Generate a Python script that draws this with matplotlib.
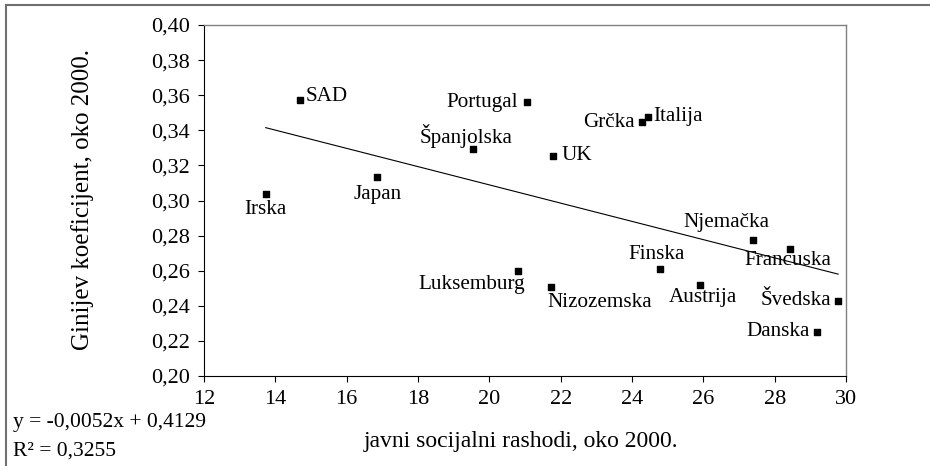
import matplotlib.pyplot as plt
import numpy as np
from matplotlib.lines import Line2D
from matplotlib.ticker import FuncFormatter

plt.rcParams['font.family'] = ['Liberation Serif', 'DejaVu Serif']

# Podaci
zemlje = ['SAD', 'Irska', 'Japan', 'Španjolska', 'Portugal', 'UK', 'Grčka', 'Italija',
          'Luksemburg', 'Nizozemska', 'Finska', 'Austrija', 'Njemačka', 'Francuska',
          'Švedska', 'Danska']
rashodi = [14.69, 13.73, 16.86, 19.55, 21.07, 21.79, 24.29, 24.44,
           20.81, 21.73, 24.78, 25.92, 27.38, 28.43, 29.78, 29.19]
gini = [0.357, 0.3035, 0.3136, 0.3292, 0.3561, 0.3254, 0.3447, 0.3474,
        0.260, 0.2507, 0.2608, 0.2519, 0.2775, 0.2726, 0.2429, 0.2249]

nagib = -0.0052
odsjecak = 0.4129
r2 = 0.3255

x_ticks = [12, 14, 16, 18, 20, 22, 24, 26, 28, 30]
y_ticks = [0.20, 0.22, 0.24, 0.26, 0.28, 0.30, 0.32, 0.34, 0.36, 0.38, 0.40]

# Pomaci natpisa (u pikselima): dx, dy, poravnanje
pomaci = {
    'SAD': (6, 4, 'left'), 'Irska': (0, -15, 'center'), 'Japan': (0, -18, 'center'),
    'Španjolska': (-7, 13, 'center'), 'Portugal': (-9, 0, 'right'), 'UK': (8, 0, 'left'),
    'Grčka': (-8, 0, 'right'), 'Italija': (6, 1, 'left'), 'Luksemburg': (7, -14, 'right'),
    'Nizozemska': (-4, -15, 'left'), 'Finska': (-3, 15, 'center'), 'Austrija': (2, -13, 'center'),
    'Njemačka': (-26, 17, 'center'), 'Francuska': (-2, -12, 'center'),
    'Švedska': (-7, 0, 'right'), 'Danska': (-7, 1, 'right'),
}

fig = plt.figure(figsize=(9.3, 4.66), dpi=100)
ax = fig.add_axes([204 / 930, 1 - 376 / 466, 642 / 930, 351 / 466])

ax.scatter(rashodi, gini, marker='s', s=22, color='black', zorder=3)

# Linija trenda
xl = np.array([min(rashodi), max(rashodi)])
ax.plot(xl, nagib * xl + odsjecak, color='black', lw=0.8)

for z, x, y in zip(zemlje, rashodi, gini):
    dx, dy, ha = pomaci[z]
    ax.annotate(z, (x, y), xytext=(dx * 0.72, dy * 0.72), textcoords='offset points',
                ha=ha, va='center', fontsize=15.2)

ax.set_xlim(12, 30)
ax.set_ylim(0.20, 0.40)
ax.set_xticks(x_ticks)
ax.set_yticks(y_ticks)
ax.yaxis.set_major_formatter(FuncFormatter(lambda v, p: f'{v:.2f}'.replace('.', ',')))
ax.tick_params(labelsize=16, length=4, width=0.8, direction='out', pad=6)
for s in ['top', 'right']:
    ax.spines[s].set_color('#808080')
    ax.spines[s].set_linewidth(1.0)
for s in ['left', 'bottom']:
    ax.spines[s].set_linewidth(0.8)

fig.text(521 / 930, 1 - 441 / 466, 'javni socijalni rashodi, oko 2000.', ha='center', va='center', fontsize=17)
fig.text(83 / 930, 1 - 200 / 466, 'Ginijev koeficijent, oko 2000.', ha='center', va='center',
         rotation=90, fontsize=18)

fig.text(13 / 930, 1 - 423 / 466, f'y = {nagib:.4f}x + {odsjecak:.4f}'.replace('.', ','),
         ha='left', va='center', fontsize=15.5)
fig.text(13 / 930, 1 - 451 / 466, f'R² = {r2:.4f}'.replace('.', ','), ha='left', va='center', fontsize=15.5)

# Okvir slike (gore i lijevo)
fig.add_artist(Line2D([6 / 930, 1], [1 - 5 / 466, 1 - 5 / 466], color='#707070', lw=1.5))
fig.add_artist(Line2D([6 / 930, 6 / 930], [0, 1 - 5 / 466], color='#707070', lw=1.5))

fig.savefig('out.png', dpi=100)
